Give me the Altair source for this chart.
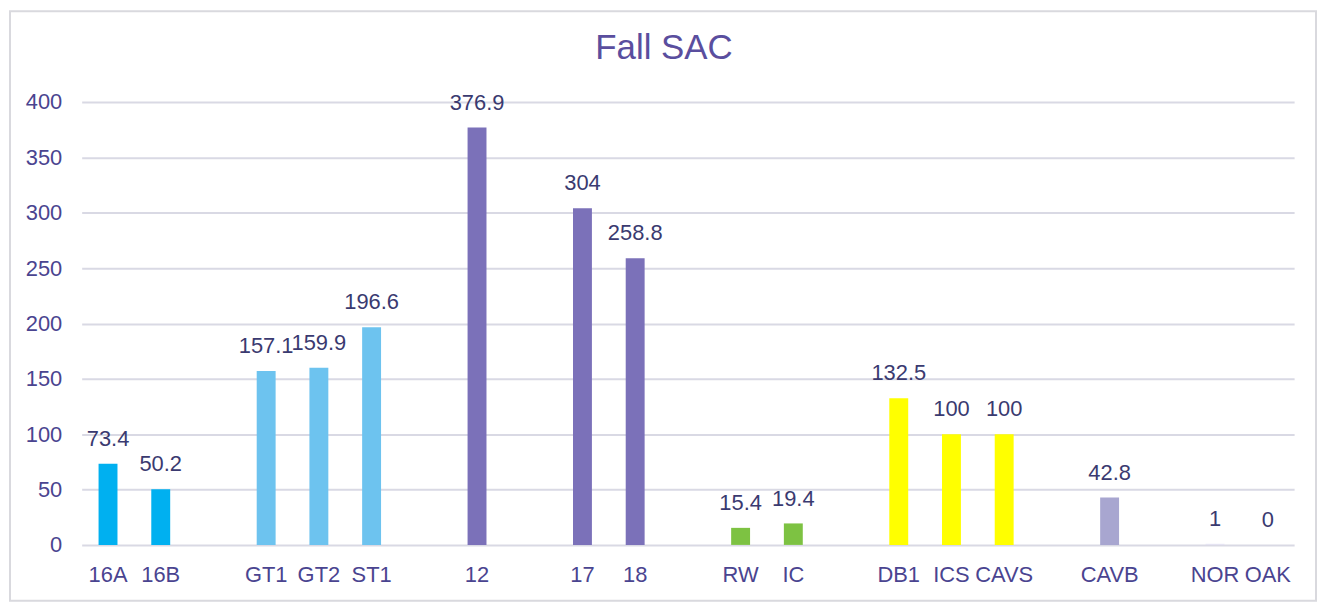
import altair as alt
import pandas as pd

# Slot order on the x axis (names starting with "_" are empty gaps)
slots = ["16A", "16B", "_a", "GT1", "GT2", "ST1", "_b", "12", "_c", "17", "18", "_d",
         "RW", "IC", "_e", "DB1", "ICS", "CAVS", "_f", "CAVB", "_g", "NOR", "OAK"]
categories = ["16A", "16B", "GT1", "GT2", "ST1", "12", "17", "18", "RW", "IC",
              "DB1", "ICS", "CAVS", "CAVB", "NOR", "OAK"]
values = [73.4, 50.2, 157.1, 159.9, 196.6, 376.9, 304, 258.8, 15.4, 19.4,
          132.5, 100, 100, 42.8, 1, 0]
groups = ["g1", "g1", "g2", "g2", "g2", "g3", "g3", "g3", "g4", "g4",
          "g5", "g5", "g5", "g6", "g7", "g7"]
group_names = ["g1", "g2", "g3", "g4", "g5", "g6", "g7"]
group_colors = ["#00B0F0", "#6DC3EF", "#7B71B9", "#7DC242", "#FFFF00", "#A8A6D0", "#E4E2F2"]
y_ticks = [0, 50, 100, 150, 200, 250, 300, 350, 400]
title_text = "Fall SAC"

df = pd.DataFrame({"cat": categories, "value": values, "group": groups})

FONT = "Liberation Sans"
W, H = 1218, 445

x_enc = alt.X("cat:N", scale=alt.Scale(domain=slots, paddingInner=0, paddingOuter=0),
              sort=slots,
              axis=alt.Axis(title=None, labelExpr="indexof(datum.label, '_') == 0 ? '' : datum.label",
                            labelAngle=0, ticks=False, domain=False, grid=False,
                            labelFont=FONT, labelFontSize=22, labelColor="#4A4490",
                            labelPadding=20))
y_enc = alt.Y("value:Q", scale=alt.Scale(domain=[0, 400], nice=False),
              axis=alt.Axis(title=None, values=y_ticks, ticks=False, domain=False,
                            grid=True, gridColor="#D9D9E4", gridWidth=2,
                            labelFont=FONT, labelFontSize=22, labelColor="#4A4490",
                            labelPadding=20))

bars = alt.Chart(df).mark_bar(size=19).encode(
    x=x_enc, y=y_enc,
    color=alt.Color("group:N", scale=alt.Scale(domain=group_names, range=group_colors), legend=None),
)

labels = alt.Chart(df).mark_text(font=FONT, fontSize=22, color="#3A3A70", dy=-18,
                                 baseline="alphabetic").encode(
    x=alt.X("cat:N", scale=alt.Scale(domain=slots), sort=slots),
    y="value:Q",
    text=alt.Text("value:Q"),
)

frame_df = pd.DataFrame({"t": [title_text]})

border = alt.Chart(frame_df).mark_rect(fill=None, stroke="#D9D9DE",
                                       strokeWidth=2, clip=False).encode(
    x=alt.value(-72), x2=alt.value(1240), y=alt.value(-91), y2=alt.value(H + 56)
)

title = alt.Chart(frame_df).mark_text(font=FONT, fontSize=35, color="#5A4E9E",
                                      baseline="alphabetic", align="center").encode(
    x=alt.value(W / 2 - 24), y=alt.value(-43), text="t:N"
)

chart = alt.layer(border, title, bars, labels).properties(
    width=W, height=H,
    autosize=alt.AutoSizeParams(type="none"),
    padding={"left": 74, "top": 93, "right": 26, "bottom": 60},
).configure_view(stroke=None)

chart.save("out.html", embed_options={"renderer": "svg", "actions": False})
